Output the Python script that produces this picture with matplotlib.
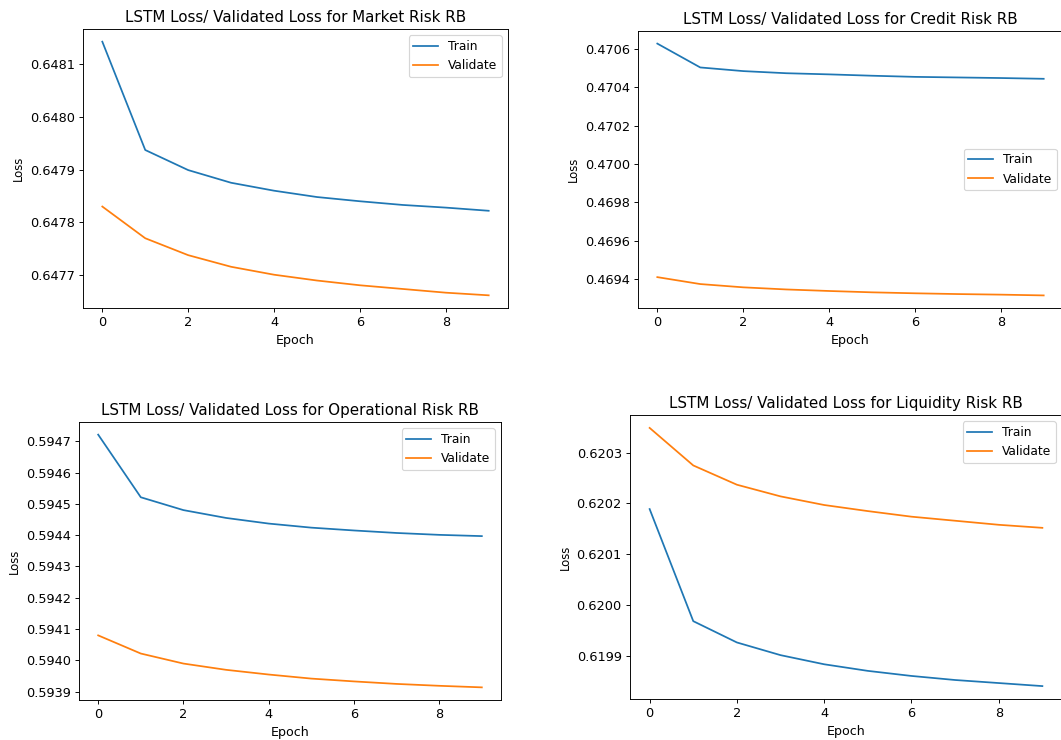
import numpy as np
import matplotlib.pyplot as plt

# Datos (10 épocas)
epocas = list(range(10))

mercado_train = [0.648142, 0.647937, 0.647899, 0.647875, 0.647860,
                 0.647848, 0.647840, 0.647833, 0.647828, 0.647822]
mercado_val = [0.647830, 0.647770, 0.647738, 0.647716, 0.647701,
               0.647690, 0.647681, 0.647674, 0.647667, 0.647662]

credito_train = [0.470626, 0.470502, 0.470483, 0.470472, 0.470466,
                 0.470459, 0.470453, 0.470450, 0.470447, 0.470443]
credito_val = [0.469412, 0.469376, 0.469359, 0.469348, 0.469340,
               0.469333, 0.469328, 0.469324, 0.469321, 0.469317]

operacional_train = [0.594721, 0.594521, 0.594480, 0.594455, 0.594437,
                     0.594424, 0.594415, 0.594407, 0.594401, 0.594397]
operacional_val = [0.594080, 0.594022, 0.593990, 0.593970, 0.593955,
                   0.593942, 0.593933, 0.593925, 0.593919, 0.593914]

liquidez_train = [0.620189, 0.619968, 0.619926, 0.619901, 0.619883,
                  0.619870, 0.619860, 0.619852, 0.619846, 0.619840]
liquidez_val = [0.620349, 0.620275, 0.620237, 0.620214, 0.620197,
                0.620185, 0.620174, 0.620166, 0.620158, 0.620152]

titulos = ['Market', 'Credit', 'Operational', 'Liquidity']
series = [(mercado_train, mercado_val), (credito_train, credito_val),
          (operacional_train, operacional_val), (liquidez_train, liquidez_val)]

# Posiciones de los ejes en píxeles: (izquierda, arriba, ancho, alto)
W, H = 1061, 740
cajas = [(83, 29, 425, 279), (638, 31, 425, 277),
         (79, 422, 422, 278), (630, 415, 432, 284)]
leyendas = ['upper right', 'center right', 'upper right', 'upper right']

dpi = 84
plt.rcParams['xtick.labelsize'] = 11
plt.rcParams['ytick.labelsize'] = 11
plt.rcParams['axes.labelsize'] = 10.8
plt.rcParams['axes.titlesize'] = 13
plt.rcParams['legend.fontsize'] = 10.5

fig = plt.figure(figsize=(W / dpi, H / dpi), dpi=dpi)

for (tr, va), nombre, (l, t, w, h), loc in zip(series, titulos, cajas, leyendas):
    ax = fig.add_axes([l / W, 1 - (t + h) / H, w / W, h / H])
    ax.plot(epocas, tr, label='Train')
    ax.plot(epocas, va, label='Validate')
    ax.set_title(f'LSTM Loss/ Validated Loss for {nombre} Risk RB')
    ax.set_xlabel('Epoch')
    ax.set_ylabel('Loss', fontsize=10)
    ax.ticklabel_format(useOffset=False, axis='y')
    ax.legend(loc=loc)

fig.savefig('out.png', dpi=dpi)
